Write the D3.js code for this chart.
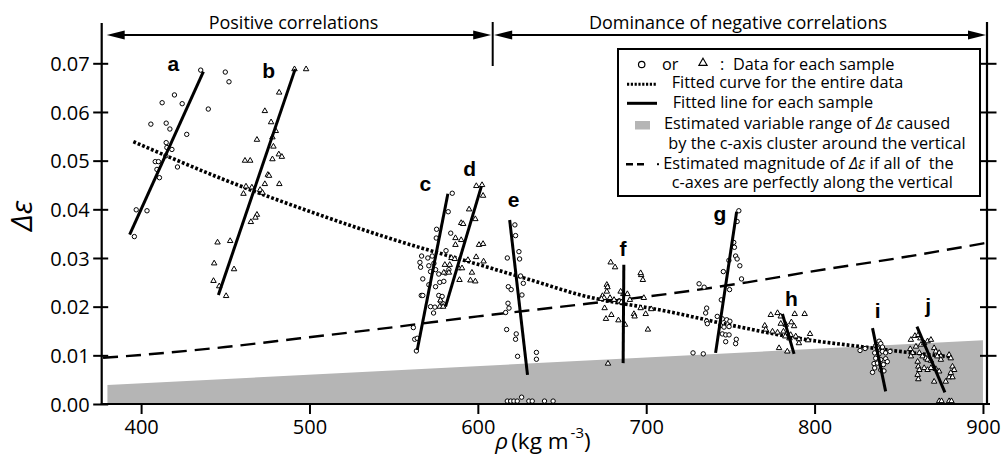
<!DOCTYPE html>
<html><head><meta charset="utf-8">
<script src="https://cdn.jsdelivr.net/npm/d3@7/dist/d3.min.js"></script>
<style>body{margin:0;background:#fff} svg{display:block} text{font-family:"Open Sans","DejaVu Sans",sans-serif;}</style>
</head><body><svg id="c" width="1001" height="458"></svg>
<script>
// ---------- data ----------
const xTicks = [400, 500, 600, 700, 800, 900];
const yTicks = [0.00, 0.01, 0.02, 0.03, 0.04, 0.05, 0.06, 0.07];

// sample a (circles)
const sampleA = [[396.0,0.0344],[397.1,0.0399],[403.5,0.0397],[408.4,0.0498],[410.3,0.0498],[409.4,0.0482],[410.9,0.0465],
 [414.9,0.0537],[415.3,0.0527],[418.3,0.0523],[414.7,0.0510],[405.8,0.0575],[414.9,0.0577],[417.1,0.0565],[412.5,0.0619],
 [419.8,0.0635],[424.4,0.0617],[427.1,0.0554],[421.6,0.0487],[435.4,0.0686],[439.9,0.0606],[450.0,0.0682],[452.2,0.0662]];
// sample b (triangles)
const sampleB = [[498,0.0688],[491.1,0.0688],[482,0.0640],[473.5,0.0602],[477.2,0.0579],[468.8,0.0543],[480,0.0561],[478,0.0548],
 [478.6,0.0529],[481.8,0.0513],[483.6,0.0508],[461.7,0.0500],[464.8,0.0500],[478,0.0503],[475.3,0.0471],[476,0.0469],
 [462.3,0.0447],[465.8,0.0445],[473.5,0.0452],[482.1,0.0452],[460.8,0.0432],[470.7,0.0440],[472.1,0.0434],[468.8,0.0389],
 [467.9,0.0383],[465.2,0.0374],[445.4,0.0332],[452.9,0.0335],[443.4,0.0289],[455.2,0.0277],[443,0.0253],[446.4,0.0242],[450.5,0.0222]];
// sample c (circles)
const sampleC = [[584.8,0.0433],[582.4,0.0395],[575.5,0.0359],[575.3,0.0341],[566.6,0.0304],[570.3,0.0300],[572.9,0.0304],
 [565.6,0.0291],[566,0.0281],[570.9,0.0284],[573.9,0.0289],[571.9,0.0272],[574.9,0.0276],[567.3,0.0257],[570.9,0.0245],
 [574.9,0.0241],[577.4,0.0250],[579.8,0.0252],[576.8,0.0267],[580.8,0.0269],[582.8,0.0276],[581.1,0.0315],[583.9,0.0351],
 [576.8,0.0223],[578.8,0.0221],[566.4,0.0223],[567.3,0.0223],[577.8,0.0211],[579.4,0.0206],[571.9,0.0200],[574.5,0.0199],
 [573.7,0.0187],[561.7,0.0157],[562.5,0.0133],[564,0.0135],[563.5,0.0109]];
// sample d (triangles)
const sampleD = [[599.1,0.0448],[602.5,0.0450],[603.1,0.0428],[594.8,0.0400],[598.5,0.0380],[590.1,0.0372],[591.3,0.0370],
 [586.7,0.0341],[590.1,0.0337],[600.7,0.0327],[603.1,0.0329],[586.7,0.0327],[584.3,0.0300],[586.3,0.0298],[594.1,0.0296],
 [599,0.0302],[603.4,0.0293],[580.4,0.0286],[583.3,0.0286],[588.6,0.0279],[590.6,0.0279],[596.5,0.0270],[579.8,0.0270],
 [582.8,0.0270],[589.1,0.0255],[595.6,0.0254],[598.5,0.0252],[577.8,0.0213],[577.4,0.0200],[579.4,0.0200]];
// sample e (circles)
const sampleE = [[622,0.0368],[622.4,0.0346],[617.5,0.0300],[624.4,0.0313],[624.8,0.0298],[625.4,0.0263],[627,0.0248],
 [618.1,0.0241],[619.8,0.0235],[626.2,0.0224],[617.9,0.0207],[618.5,0.0197],[616.5,0.0188],[617.1,0.0153],[622.8,0.0144],
 [622.4,0.0133],[623.6,0.0098],[634.8,0.0106],[634.8,0.0092],
 [617.5,0.0006],[619.5,0.0006],[621.4,0.0006],[623.4,0.0006],[626,0.0014],[630.3,0.0006],[632.3,0.0006],[639.6,0.0006],[644.7,0.0006]];
// sample f (triangles)
const sampleF = [[678.9,0.0291],[681.5,0.0281],[676.6,0.0245],[677,0.0240],[676.6,0.0231],[674,0.0222],[675,0.0218],[673.4,0.0216],
 [678.5,0.0218],[680.9,0.0214],[683.9,0.0211],[685.3,0.0209],[675.3,0.0197],[679.3,0.0183],[676.1,0.0175],[683.5,0.0172],
 [687.4,0.0163],[688.8,0.0226],[690.3,0.0214],[692.7,0.0185],[693.1,0.0180],[697,0.0265],[698,0.0255],[696.7,0.0269],
 [698.6,0.0218],[696.7,0.0197],[699.7,0.0185],[703,0.0195],[701,0.0153],[677.3,0.0083],[684.8,0.0231],[686.4,0.0226]];
// sample g (circles)
const sampleG = [[755,0.0397],[754,0.0375],[752,0.0332],[752.4,0.0322],[753.1,0.0304],[754,0.0298],[749.1,0.0295],[755.6,0.0284],
 [745.8,0.0272],[756.6,0.0257],[731.4,0.0247],[734.4,0.0240],[749.5,0.0235],[744.6,0.0214],[735.9,0.0197],[735.3,0.0187],
 [735.9,0.0170],[736.3,0.0165],[742.2,0.0180],[745.2,0.0175],[747.8,0.0173],[749.7,0.0170],[744.2,0.0161],[746.2,0.0158],
 [749.2,0.0159],[745.2,0.0144],[747.2,0.0142],[749.2,0.0142],[747.2,0.0128],[753.5,0.0133],[753.1,0.0124],[727.8,0.0105],[733.9,0.0103]];
// sample h (triangles)
const sampleH = [[774,0.0183],[778,0.0187],[779.9,0.0180],[788.2,0.0185],[794.1,0.0185],[770.4,0.0161],[771,0.0153],[775,0.0149],
 [778,0.0147],[779.9,0.0165],[782.9,0.0163],[786.2,0.0168],[787.8,0.0160],[781.5,0.0149],[783.8,0.0146],[785.8,0.0142],
 [788.8,0.0139],[790.7,0.0133],[790.7,0.0125],[796.1,0.0131],[778.9,0.0115],[783.8,0.0108],[797.3,0.0144],[782.6,0.0139],[785.1,0.0135]];
// sample i (circles)
const sampleI = [[838.3,0.0129],[839.3,0.0124],[836.3,0.0120],[837.3,0.0115],[840.3,0.0117],[827,0.0110],[830,0.0114],
 [835.7,0.0105],[838.3,0.0103],[840.3,0.0108],[842.2,0.0105],[844.8,0.0108],[836.3,0.0094],[839.3,0.0091],[842.2,0.0093],
 [843.2,0.0087],[835.3,0.0083],[837.3,0.0084],[840.9,0.0081],[835.7,0.0074],[839.3,0.0070],[841.2,0.0068],[834.4,0.0065]];
// sample j (triangles)
const sampleJ = [[857.2,0.0132],[859.6,0.0140],[861.6,0.0142],[862.8,0.0135],[856.8,0.0113],[858.2,0.0105],[857.2,0.0098],
 [860.2,0.0118],[863.2,0.0122],[865.1,0.0125],[867.1,0.0129],[869.1,0.0132],[871,0.0115],[872,0.0108],[874,0.0105],[875,0.0098],
 [862.2,0.0105],[864.1,0.0098],[866.1,0.0094],[867.1,0.0091],[869.1,0.0089],[861.2,0.0087],[861.6,0.0077],[862.2,0.0070],
 [861.2,0.0060],[861.6,0.0051],[865.1,0.0074],[867.1,0.0070],[869.1,0.0074],[872,0.0072],[874,0.0067],[871,0.0046],
 [879.9,0.0101],[880.9,0.0094],[881.9,0.0077],[882.9,0.0070],[880.9,0.0064],[879.9,0.0055],[877.9,0.0046],[881.9,0.0055],
 [872.9,0.0098],[875,0.0091],[874,0.0006],[875.4,0.0006],[879.9,0.0006],[881.3,0.0006]];

// fitted line for each sample: [start, end]
const fitA = [[393.2,0.0348],[437.0,0.0683]];
const fitB = [[445.9,0.0224],[491.5,0.0688]];
const fitC = [[564.0,0.0111],[582.2,0.0432]];
const fitD = [[580.8,0.0200],[602.1,0.0447]];
const fitE = [[618.9,0.0378],[629.5,0.0060]];
const fitF = [[686.7,0.0286],[686.3,0.0084]];
const fitG = [[741.2,0.0105],[753.7,0.0395]];
const fitH = [[780.9,0.0185],[787.8,0.0103]];
const fitI = [[834.4,0.0156],[842.2,0.0026]];
const fitJ = [[860.8,0.0159],[877.4,0.0024]];

const sampleNames = ["a","b","c","d","e","f","g","h","i","j"];
const sampleMarkers = ["circle","triangle","circle","triangle","circle","triangle","circle","triangle","circle","triangle"];
const sampleData = [sampleA,sampleB,sampleC,sampleD,sampleE,sampleF,sampleG,sampleH,sampleI,sampleJ];
const sampleFits = [fitA,fitB,fitC,fitD,fitE,fitF,fitG,fitH,fitI,fitJ];
// label anchor (rho, delta-epsilon at baseline)
const labelRho = [419.2, 475.7, 568.8, 595.2, 621.3, 686.2, 743.8, 786.3, 837.4, 867.5];
const labelDe  = [0.0684, 0.0670, 0.0438, 0.0468, 0.0404, 0.0304, 0.0376, 0.0201, 0.0176, 0.0187];

// fitted curve for entire data (dotted)
const trendRho = [395.4, 450, 506.4, 548, 600, 631.3, 661, 714.5, 750.2, 797.7, 827.5, 853.2, 881];
const trendDe  = [0.0539, 0.0460, 0.0388, 0.0340, 0.0287, 0.0255, 0.0224, 0.0189, 0.0162, 0.0131, 0.0118, 0.0107, 0.0097];
// estimated magnitude if all c-axes vertical (dashed)
const vertRho = [377.4, 400.6, 450, 494.5, 548, 600, 650, 714.5, 760, 797.7, 850, 901.8];
const vertDe  = [0.0095, 0.0101, 0.0117, 0.0135, 0.0157, 0.0180, 0.0200, 0.0227, 0.0250, 0.0272, 0.0300, 0.0331];
// estimated variable range (grey band top)
const rangeRho = [380, 900];
const rangeDe  = [0.0039, 0.0131];

// ---------- drawing ----------
const svg = d3.select("#c");
const x = d3.scaleLinear().domain([376.6, 902.4]).range([101.7, 987]);
const y = d3.scaleLinear().domain([0, 0.07]).range([404, 63.3]);
const xL = x.range()[0], xR = x.range()[1];
const yBottom = y(0), yTopAxis = 23;

// grey band
svg.append("path")
  .datum(rangeRho.map((r,i)=>[r, rangeDe[i]]))
  .attr("fill", "#b5b5b5")
  .attr("d", d3.area().x(d=>x(d[0])).y0(y(0)).y1(d=>y(d[1])));

// dashed line
svg.append("path")
  .datum(vertRho.map((r,i)=>[r, vertDe[i]]))
  .attr("fill","none").attr("stroke","#000").attr("stroke-width",2.4)
  .attr("stroke-dasharray","15,8")
  .attr("d", d3.line().x(d=>x(d[0])).y(d=>y(d[1])).curve(d3.curveMonotoneX));

// dotted trend
svg.append("path")
  .datum(trendRho.map((r,i)=>[r, trendDe[i]]))
  .attr("fill","none").attr("stroke","#000").attr("stroke-width",3.6)
  .attr("stroke-dasharray","2.8,2")
  .attr("d", d3.line().x(d=>x(d[0])).y(d=>y(d[1])).curve(d3.curveMonotoneX));

// markers
const tri = d3.symbol().type(d3.symbolTriangle).size(13);
sampleData.forEach((pts, k) => {
  const g = svg.append("g").attr("fill","#fff").attr("stroke","#000").attr("stroke-width",1);
  if (sampleMarkers[k] === "circle") {
    g.selectAll("circle").data(pts).join("circle")
      .attr("cx", d=>x(d[0])).attr("cy", d=>y(d[1])).attr("r", 2.2);
  } else {
    g.selectAll("path").data(pts).join("path")
      .attr("transform", d=>`translate(${x(d[0])},${y(d[1])})`).attr("d", tri);
  }
});

// fitted lines
sampleFits.forEach(f => {
  svg.append("line")
    .attr("x1", x(f[0][0])).attr("y1", y(f[0][1]))
    .attr("x2", x(f[1][0])).attr("y2", y(f[1][1]))
    .attr("stroke","#000").attr("stroke-width",3);
});

// sample labels
sampleNames.forEach((n,k) => {
  svg.append("text").attr("x", x(labelRho[k])).attr("y", y(labelDe[k]))
    .attr("text-anchor","middle").attr("font-weight","bold")
    .style("font-family","'Liberation Sans',Arial,sans-serif")
    .attr("font-size", 21).text(n);
});

// axes
const axisG = svg.append("g");
const yAxis = d3.axisLeft(y).tickValues(yTicks).tickFormat(d3.format(".2f")).tickSize(0).tickPadding(12);
const gy = axisG.append("g").attr("transform",`translate(${xL},0)`).call(yAxis);
gy.select(".domain").remove();
gy.selectAll(".tick text").attr("font-size",20).attr("fill","#000")
  .style("font-family","'Open Sans',sans-serif").attr("dy","0.36em");
gy.selectAll(".tick").append("line").attr("x1",-8.5).attr("x2",6.5).attr("stroke","#000").attr("stroke-width",2);
const yAxisR = d3.axisRight(y).tickValues(yTicks.slice(1)).tickFormat("").tickSize(0);
const gyr = axisG.append("g").attr("transform",`translate(${xR},0)`).call(yAxisR);
gyr.select(".domain").remove();
gyr.selectAll(".tick").append("line").attr("x1",-7).attr("x2",9.5).attr("stroke","#000").attr("stroke-width",2);
const xAxis = d3.axisBottom(x).tickValues(xTicks).tickFormat(d3.format("d")).tickSize(10).tickPadding(6);
const gx = axisG.append("g").attr("transform",`translate(0,${yBottom})`).call(xAxis);
gx.select(".domain").remove();
gx.selectAll(".tick line").attr("stroke","#000").attr("stroke-width",2);
gx.selectAll(".tick text").attr("font-size",20).attr("fill","#000").style("font-family","'Open Sans',sans-serif");
axisG.append("line").attr("x1",xL).attr("x2",xL).attr("y1",yTopAxis).attr("y2",yBottom+1).attr("stroke","#000").attr("stroke-width",2.2);
axisG.append("line").attr("x1",xR).attr("x2",xR).attr("y1",yTopAxis-1).attr("y2",yBottom+1).attr("stroke","#000").attr("stroke-width",2.2);
axisG.append("line").attr("x1",xL-1).attr("x2",xR+3).attr("y1",yBottom).attr("y2",yBottom).attr("stroke","#000").attr("stroke-width",2.2);

// y label
svg.append("text").attr("transform",`translate(32,216) rotate(-90)`).attr("text-anchor","middle")
  .attr("font-size",30).attr("font-style","italic").style("font-family","'Open Sans',sans-serif").text("Δε");
// x label
const xt = svg.append("text").attr("x",543).attr("y",449).attr("text-anchor","middle").attr("font-size",22.5);
xt.append("tspan").attr("font-style","italic").text("ρ");
xt.append("tspan").attr("dx",3).text("(kg m");
xt.append("tspan").attr("dy",-11).attr("dx",2).attr("font-size",15).text("-3");
xt.append("tspan").attr("dy",11).text(")");

// top arrows
const midX = 492.7, arrowY = 35;
const ann = svg.append("g").attr("stroke","#000").attr("fill","#000");
ann.append("line").attr("x1",midX).attr("x2",midX).attr("y1",22).attr("y2",66).attr("stroke-width",2);
function arrow(x1, x2) {
  ann.append("line").attr("x1",x1+6).attr("x2",x2-6).attr("y1",arrowY).attr("y2",arrowY).attr("stroke-width",2);
  ann.append("path").attr("stroke","none").attr("d",`M${x1},${arrowY} L${x1+18},${arrowY-4.5} L${x1+18},${arrowY+4.5} Z`);
  ann.append("path").attr("stroke","none").attr("d",`M${x2},${arrowY} L${x2-18},${arrowY-4.5} L${x2-18},${arrowY+4.5} Z`);
}
arrow(xL+5, midX-1.5);
arrow(midX+1.5, xR-1);
svg.append("text").attr("x",293.5).attr("y",29.3).attr("text-anchor","middle").attr("font-size",18).text("Positive correlations");
svg.append("text").attr("x",738).attr("y",29).attr("text-anchor","middle").attr("font-size",18).text("Dominance of negative correlations");

// legend
const lg = svg.append("g");
lg.append("rect").attr("x",618).attr("y",49).attr("width",362).attr("height",147)
  .attr("fill","#fff").attr("stroke","#000").attr("stroke-width",2);
const fs = 16.3;
lg.append("circle").attr("cx",641.7).attr("cy",64.5).attr("r",3.2).attr("fill","#fff").attr("stroke","#000").attr("stroke-width",1.2);
lg.append("text").attr("x",662).attr("y",69.5).attr("font-size",fs).text("or");
lg.append("path").attr("transform","translate(703,63)").attr("d",d3.symbol().type(d3.symbolTriangle).size(30))
  .attr("fill","#fff").attr("stroke","#000").attr("stroke-width",1.1);
lg.append("text").attr("x",720).attr("y",69.5).attr("font-size",fs).text(":");
lg.append("text").attr("x",733).attr("y",69.5).attr("font-size",fs).text("Data for each sample");
lg.append("line").attr("x1",627).attr("x2",657).attr("y1",84.3).attr("y2",84.3).attr("stroke","#000").attr("stroke-width",3).attr("stroke-dasharray","2.2,1.6");
lg.append("text").attr("x",671.7).attr("y",88.3).attr("font-size",fs).text("Fitted curve for the entire data");
lg.append("line").attr("x1",627).attr("x2",657).attr("y1",103.3).attr("y2",103.3).attr("stroke","#000").attr("stroke-width",3);
lg.append("text").attr("x",672.7).attr("y",107.7).attr("font-size",fs).text("Fitted line for each sample");
lg.append("rect").attr("x",635).attr("y",121).attr("width",15).attr("height",8.5).attr("fill","#b5b5b5");
const t4 = lg.append("text").attr("x",664).attr("y",129.3).attr("font-size",fs);
t4.append("tspan").text("Estimated variable range of ");
t4.append("tspan").attr("font-style","italic").text("Δε");
t4.append("tspan").text(" caused");
lg.append("text").attr("x",668.3).attr("y",149.3).attr("font-size",fs).text("by the c-axis cluster around the vertical");
lg.append("line").attr("x1",626).attr("x2",644).attr("y1",164.2).attr("y2",164.2).attr("stroke","#000").attr("stroke-width",2.4).attr("stroke-dasharray","7,4");
lg.append("rect").attr("x",657).attr("y",163.2).attr("width",2).attr("height",2).attr("fill","#000");
const t6 = lg.append("text").attr("x",663.3).attr("y",168.8).attr("font-size",fs);
t6.append("tspan").text("Estimated magnitude of ");
t6.append("tspan").attr("font-style","italic").text("Δε");
t6.append("tspan").text(" if all of\u00A0 the");
lg.append("text").attr("x",671.7).attr("y",188.3).attr("font-size",fs).text("c-axes are perfectly along the vertical");
</script></body></html>
